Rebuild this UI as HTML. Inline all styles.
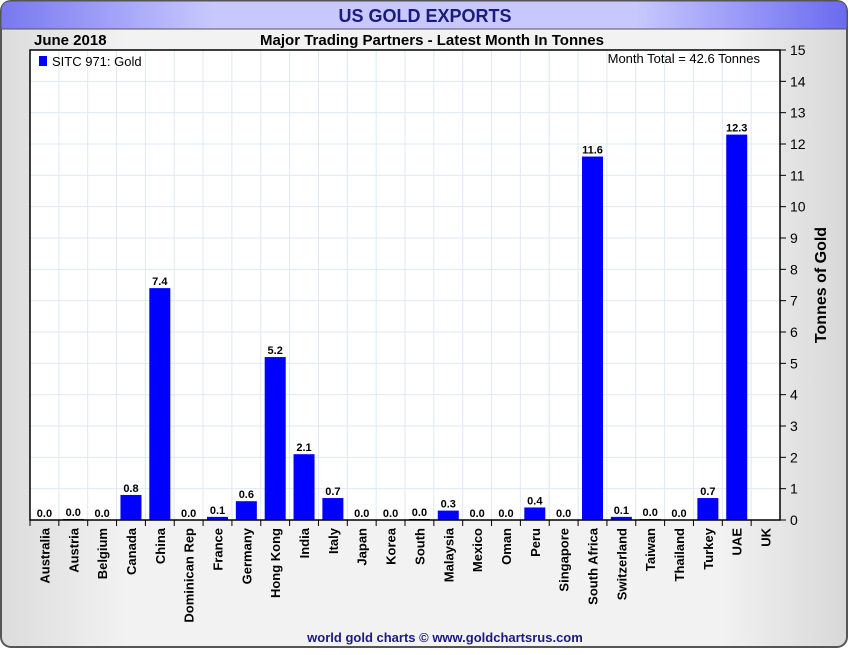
<!DOCTYPE html>
<html><head><meta charset="utf-8"><style>
body{margin:0;width:850px;height:650px;background:#fff;overflow:hidden;font-family:"Liberation Sans",Arial,sans-serif}
</style></head><body>
<svg width="850" height="650" xmlns="http://www.w3.org/2000/svg">
<defs>
<linearGradient id="bg" x1="0" x2="1"><stop offset="0" stop-color="#dcdcdc"/><stop offset="0.15" stop-color="#f2f2f2"/><stop offset="0.85" stop-color="#f2f2f2"/><stop offset="1" stop-color="#d8d8d8"/></linearGradient>
<linearGradient id="tb" x1="0" x2="1"><stop offset="0" stop-color="#7878f0"/><stop offset="0.25" stop-color="#c8c8ff"/><stop offset="0.75" stop-color="#c8c8ff"/><stop offset="1" stop-color="#6a6af0"/></linearGradient>
</defs>
<rect x="1" y="1" width="846" height="646" rx="10" fill="url(#bg)" stroke="#555" stroke-width="2"/>
<path d="M1,29 L1,11 Q1,1 11,1 L837,1 Q847,1 847,11 L847,29 Z" fill="url(#tb)" stroke="#555" stroke-width="1"/>
<text x="425" y="22" text-anchor="middle" font-size="18" font-weight="bold" fill="#1a1a80">US GOLD EXPORTS</text>
<text x="34" y="45" font-size="15" font-weight="bold" fill="#000">June 2018</text>
<text x="432" y="45" text-anchor="middle" font-size="15" font-weight="bold" fill="#000">Major Trading Partners - Latest Month In Tonnes</text>
<rect x="30" y="50" width="750" height="470" fill="#fff"/>
<g id="grid"></g><g id="bars"></g><g id="axes"></g>
<rect x="39" y="56" width="8" height="10" fill="#0000ff"/>
<text x="52" y="66" font-size="13" fill="#000">SITC 971: Gold</text>
<text x="760" y="63" text-anchor="end" font-size="13" fill="#000">Month Total = 42.6 Tonnes</text>
<text transform="translate(826,285) rotate(-90)" text-anchor="middle" font-size="16" font-weight="bold" fill="#000">Tonnes of Gold</text>
<text x="445" y="642" text-anchor="middle" font-size="13" font-weight="bold" fill="#1a1a80">world gold charts © www.goldchartsrus.com</text>
</svg>
<script>
const categories=["Australia","Austria","Belgium","Canada","China","Dominican Rep","France","Germany","Hong Kong","India","Italy","Japan","Korea","South","Malaysia","Mexico","Oman","Peru","Singapore","South Africa","Switzerland","Taiwan","Thailand","Turkey","UAE","UK"];
const values=[0.0,0.02,0.0,0.8,7.4,0.0,0.1,0.6,5.2,2.1,0.7,0.0,0.0,0.02,0.3,0.0,0.0,0.4,0.0,11.6,0.1,0.03,0.0,0.7,12.3,null];
const labels=["0.0","0.0","0.0","0.8","7.4","0.0","0.1","0.6","5.2","2.1","0.7","0.0","0.0","0.0","0.3","0.0","0.0","0.4","0.0","11.6","0.1","0.0","0.0","0.7","12.3",""];
const yTicks=[0,1,2,3,4,5,6,7,8,9,10,11,12,13,14,15];
const NS="http://www.w3.org/2000/svg";
const L=30,R=780,T=50,B=520,yMax=15;
const step=(R-L)/categories.length;
const x=i=>L+i*step;
const y=v=>B-(v/yMax)*(B-T);
function mk(tag,at,parent){const e=document.createElementNS(NS,tag);for(const k in at)e.setAttribute(k,at[k]);parent.appendChild(e);return e;}
const grid=document.getElementById('grid'),bars=document.getElementById('bars'),axes=document.getElementById('axes');
yTicks.forEach(t=>{
 const gl=mk('line',{x1:L,x2:R,y1:y(t),y2:y(t),stroke:'#dde9f5','stroke-width':1},grid);
 
 
 const tk=mk('line',{x1:R,x2:R+6,y1:y(t),y2:y(t),stroke:'#000'},axes);
 
 
 const tl=mk('text',{x:R+10,y:y(t)+5,'font-size':14,fill:'#000'},axes);
 tl.textContent=t;
 
 
});
categories.forEach((c,i)=>{
 const vl=mk('line',{x1:x(i),x2:x(i),y1:T,y2:B,stroke:'#dde9f5'},grid);
 
 
 const tk=mk('line',{x1:x(i),x2:x(i),y1:B,y2:B+6,stroke:'#000'},axes);
 
 
 const cx=x(i)+step/2;
 const v=values[i];
 if(v!==null){
  const h=Math.max(B-y(v),v>0?1:0);
  const r=mk('rect',{x:cx-10.5,y:B-h,width:21,height:h,fill:'#0000ff'},bars);
  
  
  const vt=mk('text',{x:cx,y:B-h-3,'text-anchor':'middle','font-size':11,'font-weight':'bold',fill:'#000'},bars);
  vt.textContent=labels[i];
  
  
 }
 const xl=mk('text',{transform:`translate(${cx+5},${B+8}) rotate(-90)`,'text-anchor':'end','font-size':13,'font-weight':'bold',fill:'#000'},axes);
 xl.textContent=c;
 
 
});
const fr=mk('rect',{x:L,y:T,width:R-L,height:B-T,fill:'none',stroke:'#000','stroke-width':1.5},axes);


</script>
</body></html>
